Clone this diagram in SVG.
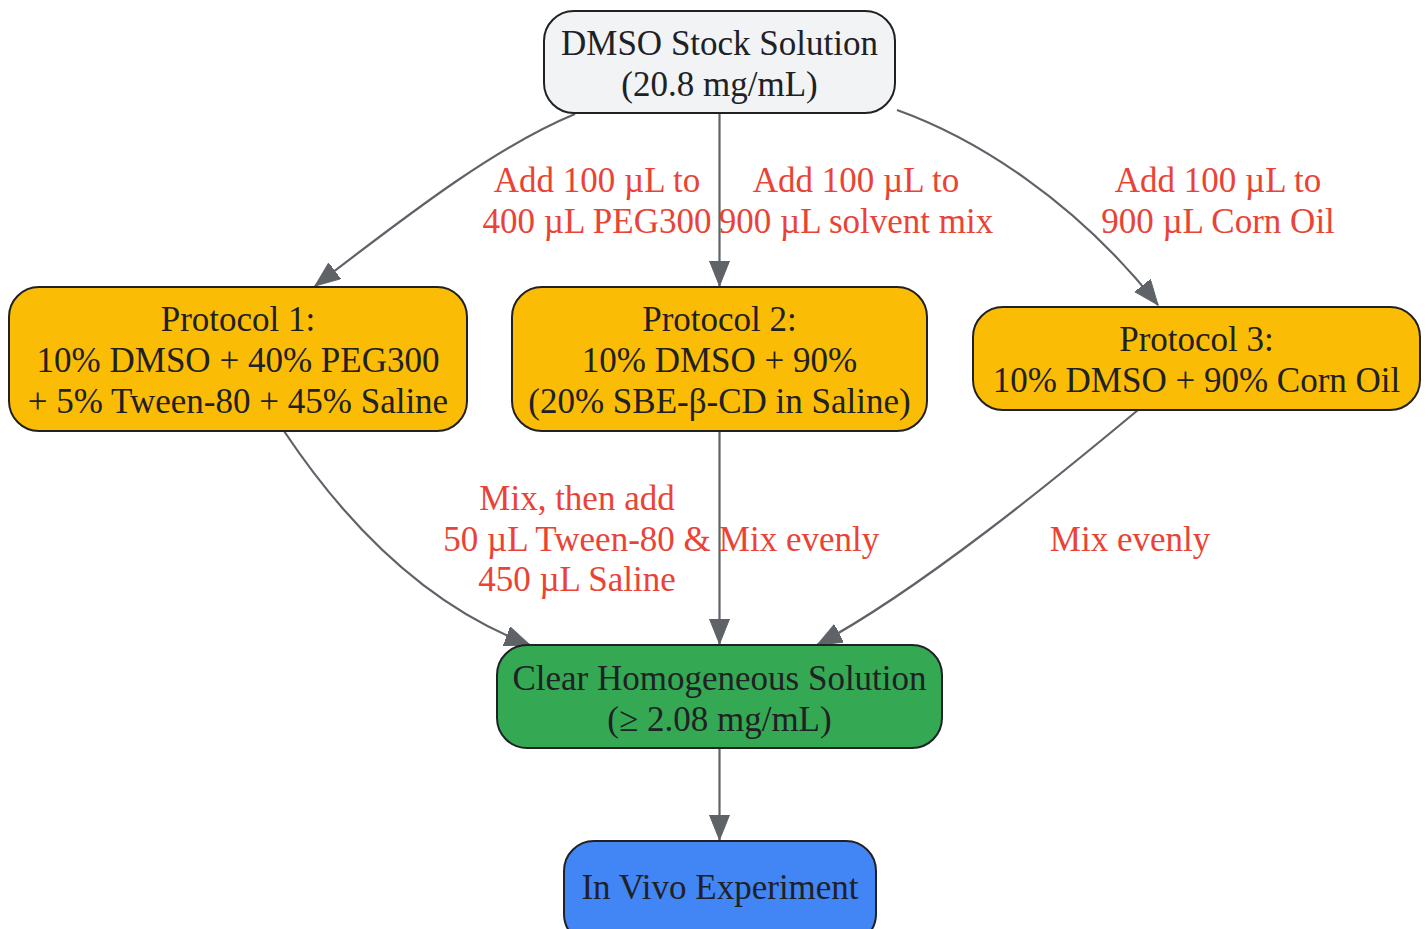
<svg xmlns="http://www.w3.org/2000/svg" width="1428" height="929" viewBox="0 0 1428 929">
<style>
.node{stroke:#202124;stroke-width:2}
.t{font-family:"Liberation Serif","Times New Roman",serif;font-size:35px;fill:#202124;text-anchor:middle}
.l{font-family:"Liberation Serif","Times New Roman",serif;font-size:35px;fill:#ea4335;text-anchor:middle}
.e{fill:none;stroke:#5f6368;stroke-width:2.2}
</style>
<defs>
<marker id="arr" markerUnits="userSpaceOnUse" markerWidth="26" markerHeight="22" refX="25" refY="10" orient="auto">
<path d="M0,0 L25,10 L0,20 z" fill="#5f6368" stroke="#5f6368" stroke-width="1"/>
</marker>
</defs>
<rect width="1428" height="929" fill="#ffffff"/>
<g id="edges">
<path class="e" d="M575,114 C500,145 420,205 315,286" marker-end="url(#arr)"/>
<path class="e" d="M719.5,114 L719.5,286" marker-end="url(#arr)"/>
<path class="e" d="M897,110 C975,138 1075,200 1158,305" marker-end="url(#arr)"/>
<path class="e" d="M284,431 C330,500 410,600 530,645" marker-end="url(#arr)"/>
<path class="e" d="M719.5,431 L719.5,644" marker-end="url(#arr)"/>
<path class="e" d="M1138,410 C1060,475 920,590 817,645" marker-end="url(#arr)"/>
<path class="e" d="M719.5,748 L719.5,840" marker-end="url(#arr)"/>
<text class="l" x="597" y="192">Add 100 µL to</text>
<text class="l" x="597" y="233">400 µL PEG300</text>
<text class="l" x="856" y="192">Add 100 µL to</text>
<text class="l" x="856" y="233">900 µL solvent mix</text>
<text class="l" x="1218" y="192">Add 100 µL to</text>
<text class="l" x="1218" y="233">900 µL Corn Oil</text>
<text class="l" x="577" y="510">Mix, then add</text>
<text class="l" x="577" y="551">50 µL Tween-80 &amp;</text>
<text class="l" x="577" y="591">450 µL Saline</text>
<text class="l" x="799" y="551">Mix evenly</text>
<text class="l" x="1130" y="551">Mix evenly</text>
</g>
<g id="stock">
<rect class="node" x="544" y="11" width="351" height="102" rx="30" fill="#f1f3f4"/>
<text class="t" x="719.5" y="55">DMSO Stock Solution</text>
<text class="t" x="719.5" y="96">(20.8 mg/mL)</text>
</g>
<g id="p1">
<rect class="node" x="9" y="287" width="458" height="144" rx="30" fill="#fbbc05"/>
<text class="t" x="238" y="331">Protocol 1:</text>
<text class="t" x="238" y="372">10% DMSO + 40% PEG300</text>
<text class="t" x="238" y="413">+ 5% Tween-80 + 45% Saline</text>
</g>
<g id="p2">
<rect class="node" x="512" y="287" width="415" height="144" rx="30" fill="#fbbc05"/>
<text class="t" x="719.5" y="331">Protocol 2:</text>
<text class="t" x="719.5" y="372">10% DMSO + 90%</text>
<text class="t" x="719.5" y="413">(20% SBE-β-CD in Saline)</text>
</g>
<g id="p3">
<rect class="node" x="973" y="307" width="447" height="103" rx="30" fill="#fbbc05"/>
<text class="t" x="1196.5" y="351">Protocol 3:</text>
<text class="t" x="1196.5" y="392">10% DMSO + 90% Corn Oil</text>
</g>
<g id="clear">
<rect class="node" x="497" y="645" width="445" height="103" rx="30" fill="#34a853"/>
<text class="t" x="719.5" y="690">Clear Homogeneous Solution</text>
<text class="t" x="719.5" y="731">(≥ 2.08 mg/mL)</text>
</g>
<g id="invivo">
<rect class="node" x="564" y="841" width="312" height="103" rx="30" fill="#4285f4"/>
<text class="t" x="720" y="899">In Vivo Experiment</text>
</g>
</svg>
